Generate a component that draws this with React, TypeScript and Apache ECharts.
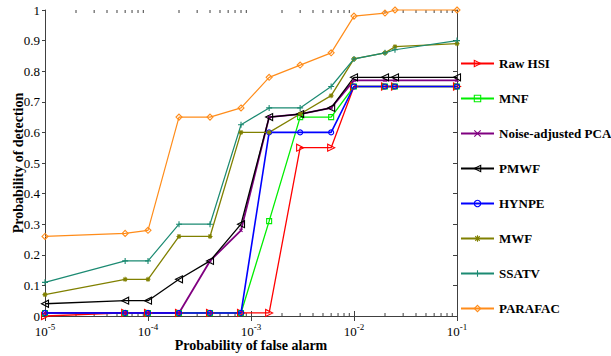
import React, { useEffect, useRef } from "react";
import * as echarts from "echarts";

const falseAlarm = [1e-5, 6e-5, 1e-4, 2e-4, 4e-4, 8e-4, 1.5e-3, 3e-3, 6e-3, 1e-2, 2e-2, 2.5e-2, 1e-1];

const rawHSI = [0.0, 0.01, 0.01, 0.01, 0.01, 0.01, 0.01, 0.55, 0.55, 0.75, 0.75, 0.75, 0.75];
const mnf = [0.01, 0.01, 0.01, 0.01, 0.01, 0.01, 0.31, 0.65, 0.65, 0.75, 0.75, 0.75, 0.75];
const napca = [0.01, 0.01, 0.01, 0.01, 0.18, 0.28, 0.65, 0.66, 0.68, 0.77, 0.77, 0.77, 0.77];
const pmwf = [0.04, 0.05, 0.05, 0.12, 0.18, 0.3, 0.65, 0.66, 0.68, 0.78, 0.78, 0.78, 0.78];
const hynpe = [0.01, 0.01, 0.01, 0.01, 0.01, 0.01, 0.6, 0.6, 0.6, 0.75, 0.75, 0.75, 0.75];
const mwf = [0.07, 0.12, 0.12, 0.26, 0.26, 0.6, 0.6, 0.66, 0.72, 0.84, 0.86, 0.88, 0.89];
const ssatv = [0.11, 0.18, 0.18, 0.3, 0.3, 0.625, 0.68, 0.68, 0.75, 0.84, 0.86, 0.87, 0.9];
const parafac = [0.26, 0.27, 0.28, 0.65, 0.65, 0.68, 0.78, 0.82, 0.86, 0.98, 0.99, 1.0, 1.0];

const seriesNames = ["Raw HSI", "MNF", "Noise-adjusted PCA", "PMWF", "HYNPE", "MWF", "SSATV", "PARAFAC"];

const yTicks = [0, 0.1, 0.2, 0.3, 0.4, 0.5, 0.6, 0.7, 0.8, 0.9, 1];

// minor tick positions of the log axis (2..9 within each decade)
const decades = [1e-5, 1e-4, 1e-3, 1e-2];
const minorMultipliers = [2, 3, 4, 5, 6, 7, 8, 9];

const SERIF = "Liberation Serif, Times New Roman, serif";
const PLUS = "path://M5,0L5,10M0,5L10,5";
const CROSS = "path://M0,0L10,10M10,0L0,10";
const STAR = "path://M5,0L5,10M0,5L10,5M1.5,1.5L8.5,8.5M8.5,1.5L1.5,8.5";

export default function App() {
  const ref = useRef<HTMLDivElement>(null);
  useEffect(() => {
    if (!ref.current) return;
    const chart = echarts.init(ref.current, undefined, { renderer: "svg" });

    const mk = (
      name: string,
      vals: number[],
      color: string,
      symbol: string,
      size: number,
      rotate = 0,
      width = 1.3
    ) => ({
      name,
      type: "line",
      data: falseAlarm.map((x, i) => [x, vals[i]]),
      symbol,
      symbolSize: size,
      symbolRotate: rotate,
      showAllSymbol: true,
      clip: false,
      lineStyle: { color, width },
      itemStyle: { color: "rgba(255,255,255,0)", borderColor: color, borderWidth: 1.1 },
      emphasis: { disabled: true },
    });

    const minorTicks: number[] = [];
    decades.forEach((d) => minorMultipliers.forEach((m) => minorTicks.push(d * m)));

    const tickColor = "#404040";

    chart.setOption({
      animation: false,
      backgroundColor: "#fff",
      grid: { left: 45, right: 154, top: 10, bottom: 40, containLabel: false, outerBoundsMode: "none" },
      legend: {
        data: seriesNames,
        orient: "vertical",
        left: 455,
        top: 52,
        itemWidth: 33,
        itemHeight: 8,
        itemGap: 22,
        itemStyle: { color: "rgba(255,255,255,0)", borderWidth: 1.1 },
        textStyle: { fontFamily: SERIF, fontWeight: "bold", fontSize: 13, color: "#000" },
      },
      xAxis: [
        {
          type: "log",
          logBase: 10,
          min: 1e-5,
          max: 1e-1,
          name: "Probability of false alarm",
          nameLocation: "middle",
          nameGap: 22,
          nameMoveOverlap: false,
          nameTextStyle: { fontFamily: SERIF, fontWeight: "bold", fontSize: 14, color: "#000" },
          axisLine: { show: true, lineStyle: { color: tickColor, width: 1 } },
          axisTick: { show: true, inside: true, length: 5, lineStyle: { color: tickColor } },
          splitLine: { show: false },
          axisLabel: {
            margin: 6,
            formatter: (v: number) => `{b|10}{s|${Math.round(Math.log10(v))}}`,
            rich: {
              b: { fontFamily: SERIF, fontSize: 13, color: "#000", verticalAlign: "bottom" },
              s: { fontFamily: SERIF, fontSize: 9, color: "#000", verticalAlign: "bottom", padding: [0, 0, 7, 0] },
            },
          },
        },
        {
          type: "log",
          logBase: 10,
          min: 1e-5,
          max: 1e-1,
          position: "top",
          axisLine: { show: true, lineStyle: { color: tickColor, width: 1 } },
          axisTick: { show: true, inside: true, length: 5, lineStyle: { color: tickColor } },
          axisLabel: { show: false },
          splitLine: { show: false },
        },
      ],
      yAxis: [
        {
          type: "value",
          min: 0,
          max: 1,
          interval: 0.1,
          name: "Probability of detection",
          nameLocation: "middle",
          nameGap: 20,
          nameMoveOverlap: false,
          nameTextStyle: { fontFamily: SERIF, fontWeight: "bold", fontSize: 14, color: "#000" },
          axisLine: { show: true, lineStyle: { color: tickColor, width: 1 } },
          axisTick: { show: true, inside: false, length: 3, lineStyle: { color: tickColor } },
          splitLine: { show: false },
          axisLabel: {
            margin: 5,
            fontFamily: SERIF,
            fontSize: 13,
            color: "#000",
            formatter: (v: number) => {
              const t = yTicks.find((k) => Math.abs(k - v) < 1e-9);
              return t === undefined ? "" : String(t);
            },
          },
        },
        {
          type: "value",
          min: 0,
          max: 1,
          interval: 0.1,
          position: "right",
          axisLine: { show: true, lineStyle: { color: tickColor, width: 1 } },
          axisTick: { show: true, inside: true, length: 4, lineStyle: { color: tickColor } },
          axisLabel: { show: false },
          splitLine: { show: false },
        },
      ],
      series: [
        {
          name: "minor-ticks",
          type: "custom",
          silent: true,
          clip: false,
          data: minorTicks.map((v) => [v]),
          renderItem: (params: any, api: any) => {
            const x = api.value(0);
            const b = api.coord([x, 0]);
            const t = api.coord([x, 1]);
            const style = { stroke: tickColor, lineWidth: 1 };
            return {
              type: "group",
              children: [
                { type: "line", shape: { x1: b[0], y1: b[1], x2: b[0], y2: b[1] - 3 }, style },
                { type: "line", shape: { x1: t[0], y1: t[1], x2: t[0], y2: t[1] + 3 }, style },
              ],
            };
          },
        },
        mk("Raw HSI", rawHSI, "#FF0000", "triangle", 7, -90),
        mk("MNF", mnf, "#00EE00", "rect", 5),
        mk("Noise-adjusted PCA", napca, "#800080", CROSS, 3, 0, 1.8),
        mk("PMWF", pmwf, "#000000", "triangle", 7, 90),
        mk("HYNPE", hynpe, "#0000FF", "circle", 5, 0, 1.6),
        mk("MWF", mwf, "#808000", STAR, 5),
        mk("SSATV", ssatv, "#1B8A72", PLUS, 6, 0, 1.2),
        mk("PARAFAC", parafac, "#FF8C1A", "diamond", 6, 0, 1.2),
      ],
    });
    return () => chart.dispose();
  }, []);
  return <div ref={ref} style={{ position: "fixed", left: 0, top: 0, width: 611, height: 356 }} />;
}
